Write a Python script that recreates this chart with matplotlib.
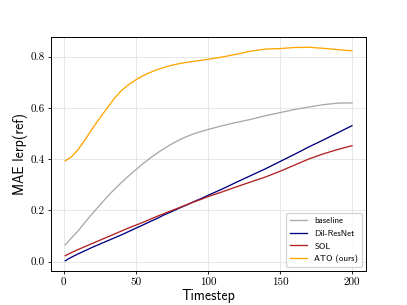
import matplotlib
matplotlib.use('Agg')
import matplotlib.pyplot as plt

timesteps = [1, 5, 10, 15, 20, 25, 30, 35, 40, 45, 50, 55, 60, 65, 70, 75, 80, 85, 90, 95, 100,
             110, 120, 130, 140, 150, 160, 170, 180, 190, 200]
baseline = [0.065, 0.09, 0.12, 0.155, 0.188, 0.22, 0.252, 0.281, 0.308, 0.334, 0.358, 0.382,
            0.404, 0.424, 0.442, 0.459, 0.474, 0.487, 0.498, 0.507, 0.515,
            0.53, 0.543, 0.555, 0.569, 0.581, 0.593, 0.603, 0.612, 0.618, 0.619]
dil_resnet = [0.003, 0.016, 0.03, 0.043, 0.056, 0.068, 0.08, 0.092, 0.104, 0.117, 0.13, 0.143,
              0.156, 0.169, 0.183, 0.195, 0.208, 0.22, 0.233, 0.245, 0.258,
              0.283, 0.31, 0.336, 0.362, 0.39, 0.418, 0.447, 0.474, 0.502, 0.53]
sol = [0.023, 0.034, 0.047, 0.059, 0.071, 0.083, 0.095, 0.107, 0.119, 0.131, 0.142, 0.153,
       0.165, 0.177, 0.188, 0.199, 0.21, 0.221, 0.232, 0.242, 0.253,
       0.272, 0.292, 0.311, 0.33, 0.352, 0.376, 0.4, 0.42, 0.437, 0.452]
ato = [0.393, 0.407, 0.437, 0.477, 0.52, 0.56, 0.598, 0.636, 0.667, 0.69, 0.709, 0.725,
       0.738, 0.749, 0.758, 0.766, 0.772, 0.777, 0.781, 0.785, 0.789,
       0.798, 0.809, 0.821, 0.829, 0.831, 0.835, 0.836, 0.832, 0.827, 0.822]

fig, ax = plt.subplots(figsize=(4.07, 3.05), dpi=100)

ax.plot(timesteps, baseline, color='darkgray', lw=0.95, label='baseline')
ax.plot(timesteps, dil_resnet, color='navy', lw=0.95, label='Dil-ResNet')
ax.plot(timesteps, sol, color='firebrick', lw=0.95, label='SOL')
ax.plot(timesteps, ato, color='orange', lw=0.95, label='ATO (ours)')

ax.set_xticks([0, 50, 100, 150, 200])
ax.set_yticks([0.0, 0.2, 0.4, 0.6, 0.8])
ax.set_yticklabels(['0.0', '0.2', '0.4', '0.6', '0.8'])
ax.set_xticklabels(['0', '50', '100', '150', '200'])
for lab in ax.get_xticklabels() + ax.get_yticklabels():
    lab.set_family('cmr10')
    lab.set_fontsize(8)
ax.tick_params(length=2.2, width=0.6, pad=2.2)
for s in ax.spines.values():
    s.set_linewidth(0.7)
ax.grid(True, color='#e3e3e3', lw=0.6)
ax.set_axisbelow(True)

ax.set_xlabel('Timestep', family='cmss10', fontsize=10, labelpad=1.5)
ax.set_ylabel('MAE lerp(ref)', family='cmss10', fontsize=10, labelpad=2)
ax.legend(loc='lower right', prop={'family': 'cmss10', 'size': 6.4})

plt.savefig('out.png', dpi=100)
